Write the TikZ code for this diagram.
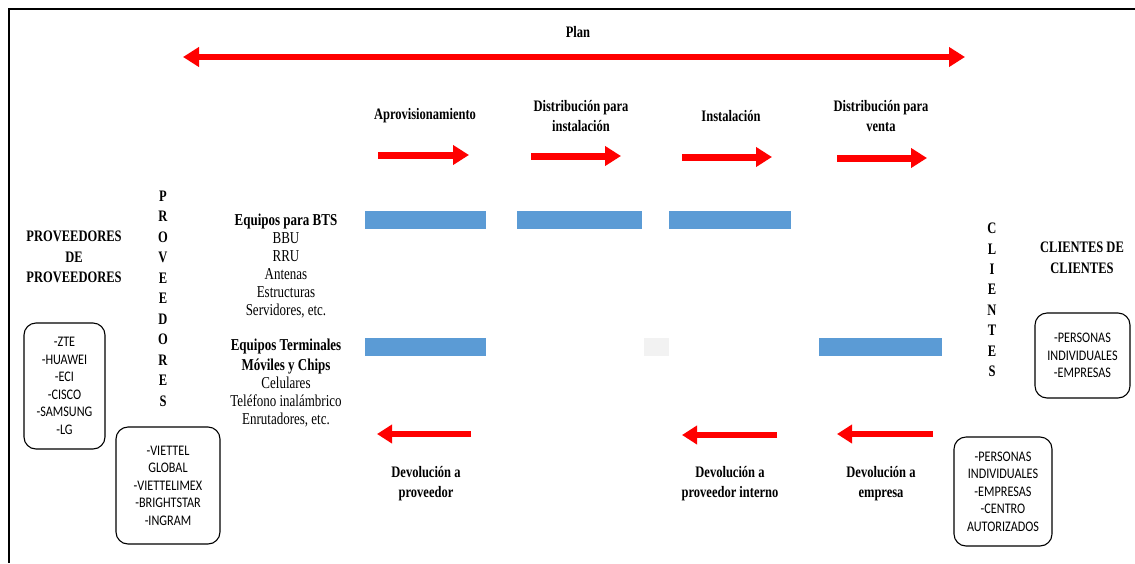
\documentclass[tikz,border=0pt]{standalone}
\usepackage{fontspec}
\setmainfont{Liberation Serif}
\newfontfamily\boxfont{Carlito}
\usetikzlibrary{arrows.meta}
\definecolor{flowred}{HTML}{FF0000}
\definecolor{barblue}{HTML}{5B9BD5}
\definecolor{bargrey}{HTML}{F2F2F2}

\begin{document}
\begin{tikzpicture}[x=1pt,y=-1pt,
  head/.style={font=\bfseries\fontsize{12.5}{16}\selectfont, align=center, inner sep=0pt, yscale=1.28},
  body/.style={font=\fontsize{13}{14}\selectfont, align=center, inner sep=0pt, yscale=1.28},
  listbox/.style={draw, line width=1.1pt, rounded corners=12pt, inner sep=0pt},
  listtxt/.style={font=\boxfont\fontsize{12.2}{14.6}\selectfont, align=center, inner sep=0pt, yscale=1.2},
  bar/.style={fill=barblue, inner sep=0pt, minimum height=18pt},
  flow/.style={draw=flowred, line width=7pt, -{Triangle[length=16pt,width=19pt]}},
  back/.style={draw=flowred, line width=6.5pt, -{Triangle[length=15pt,width=18pt]}},
  plan/.style={draw=flowred, line width=6pt, {Triangle[length=16pt,width=19pt]}-{Triangle[length=16pt,width=19pt]}}
]
\useasboundingbox (0,0) rectangle (1135,563);

% frame (top and left edges only)
\draw[line width=2.5pt] (1135,9) -- (9,9) -- (9,563);

% planning span
\node[head] (plan) at (578,32) {Plan};
\coordinate (planL) at (183,57);
\coordinate (planR) at (965,57);
\draw[plan] (planL) -- (planR);

% stage headers
\node[head] (h1) at (425,116) {Aprovisionamiento};
\node[head] (h2) at (581,116) {Distribución para\\instalación};
\node[head] (h3) at (731,116) {Instalación};
\node[head] (h4) at (881,116) {Distribución para\\venta};

% forward flow arrows
\coordinate (f1a) at (378,155); \coordinate (f1b) at (469,155);
\coordinate (f2a) at (531,156); \coordinate (f2b) at (621,156);
\coordinate (f3a) at (682,157); \coordinate (f3b) at (772,157);
\coordinate (f4a) at (837,158); \coordinate (f4b) at (927,158);
\draw[flow] (f1a) -- (f1b);
\draw[flow] (f2a) -- (f2b);
\draw[flow] (f3a) -- (f3b);
\draw[flow] (f4a) -- (f4b);

% activity bars
\node[bar, minimum width=121pt] (b11) at (425.5,220) {};
\node[bar, minimum width=125pt] (b12) at (579.5,220) {};
\node[bar, minimum width=122pt] (b13) at (730,220) {};
\node[bar, minimum width=121pt] (b21) at (425.5,347) {};
\node[bar, fill=bargrey, minimum width=25pt] (b22) at (656.5,347) {};
\node[bar, minimum width=123pt] (b24) at (880.5,347) {};

% left side: suppliers
\node[head] (pp) at (74,257) {PROVEEDORES\\DE\\PROVEEDORES};
\node[head] (prov) at (163,298.5) {P\\R\\O\\V\\E\\E\\D\\O\\R\\E\\S};

\node[listbox, minimum width=81pt, minimum height=126pt] (box1) at (64.5,386) {};
\node[listtxt] (box1t) at (box1) {-ZTE\\-HUAWEI\\-ECI\\-CISCO\\-SAMSUNG\\-LG};

\node[listbox, minimum width=104pt, minimum height=117pt] (box2) at (168,485.5) {};
\node[listtxt] (box2t) at (box2) {-VIETTEL\\GLOBAL\\-VIETTELIMEX\\-BRIGHTSTAR\\-INGRAM};

% equipment groups
\node[body] (eq1) at (286,266) {\textbf{Equipos para BTS}\\BBU\\RRU\\Antenas\\Estructuras\\Servidores, etc.};
\node[body] (eq2) at (286,383) {\textbf{Equipos Terminales}\\[1.5pt]\textbf{Móviles y Chips}\\Celulares\\Teléfono inalámbrico\\Enrutadores, etc.};

% right side: clients
\node[head] (cli) at (992,300) {C\\L\\I\\E\\N\\T\\E\\S};
\node[head] (cc) at (1082,258) {CLIENTES DE\\CLIENTES};

\node[listbox, minimum width=95pt, minimum height=85pt] (box3) at (1082.5,355.5) {};
\node[listtxt] (box3t) at (box3) {-PERSONAS\\INDIVIDUALES\\-EMPRESAS};

\node[listbox, minimum width=98pt, minimum height=109pt] (box4) at (1003,491.5) {};
\node[listtxt] (box4t) at (box4) {-PERSONAS\\INDIVIDUALES\\-EMPRESAS\\-CENTRO\\AUTORIZADOS};

% return flow arrows
\coordinate (r1a) at (471,434); \coordinate (r1b) at (377,434);
\coordinate (r2a) at (777,435); \coordinate (r2b) at (682,435);
\coordinate (r3a) at (933,434); \coordinate (r3b) at (837,434);
\draw[back] (r1a) -- (r1b);
\draw[back] (r2a) -- (r2b);
\draw[back] (r3a) -- (r3b);

\node[head, font=\bfseries\fontsize{12.5}{15.6}\selectfont] (d1) at (426,484) {Devolución a\\proveedor};
\node[head, font=\bfseries\fontsize{12.5}{15.6}\selectfont] (d2) at (730,484) {Devolución a\\proveedor interno};
\node[head, font=\bfseries\fontsize{12.5}{15.6}\selectfont] (d3) at (881,484) {Devolución a\\empresa};
\end{tikzpicture}
\end{document}
